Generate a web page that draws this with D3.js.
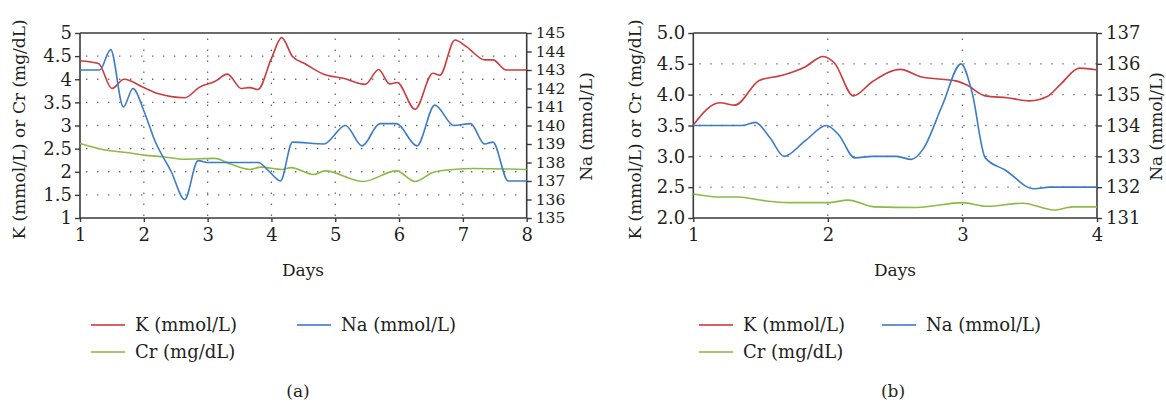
<!DOCTYPE html>
<html>
<head>
<meta charset="utf-8">
<script src="https://cdn.jsdelivr.net/npm/d3@7"></script>
<style>
  html, body { margin: 0; padding: 0; background: #fff; }
  svg { display: block; }
  text { font-family: "DejaVu Serif", "Liberation Serif", serif; fill: #231f20; }
</style>
</head>
<body>
<svg id="chart" width="1166" height="404"></svg>
<script>
// ---------- Panel (a) data ----------
const kDaysA  = [1, 1.29, 1.5, 1.69, 2, 2.22, 2.64, 2.875, 3.11, 3.31, 3.53, 3.66, 3.79, 4, 4.16, 4.33, 4.52, 4.82, 5.13, 5.47, 5.68, 5.85, 5.97, 6.25, 6.53, 6.64, 6.875, 7.06, 7.34, 7.47, 7.68, 8];
const kValsA  = [4.40, 4.34, 3.80, 4.00, 3.82, 3.69, 3.60, 3.83, 3.95, 4.11, 3.80, 3.82, 3.78, 4.45, 4.90, 4.49, 4.34, 4.11, 4.02, 3.89, 4.21, 3.90, 3.93, 3.35, 4.13, 4.09, 4.85, 4.70, 4.42, 4.42, 4.20, 4.20];
const naDaysA = [1, 1.31, 1.48, 1.68, 1.83, 2, 2.17, 2.43, 2.64, 2.85, 3, 3.79, 3.97, 4.14, 4.33, 4.82, 5.16, 5.42, 5.70, 5.96, 6.28, 6.56, 6.86, 7.12, 7.34, 7.47, 7.71, 8];
const naValsA = [143.0, 143.0, 144.1, 141.0, 142.0, 140.8, 139.2, 137.5, 136.0, 138.1, 138.0, 138.0, 137.5, 137.0, 139.1, 139.0, 140.0, 138.9, 140.1, 140.1, 138.9, 141.1, 140.0, 140.1, 139.0, 139.1, 137.0, 137.0];
const crDaysA = [1, 1.39, 1.70, 2, 2.33, 2.64, 3.11, 3.37, 3.66, 3.84, 4.16, 4.31, 4.66, 4.84, 5.44, 5.96, 6.25, 6.54, 6.85, 7.16, 8];
const crValsA = [2.61, 2.47, 2.42, 2.36, 2.32, 2.27, 2.29, 2.16, 2.05, 2.10, 2.05, 2.09, 1.94, 2.02, 1.79, 2.02, 1.79, 1.99, 2.05, 2.07, 2.05];
const dayTicksA   = [1, 2, 3, 4, 5, 6, 7, 8];
const leftTicksA  = [1, 1.5, 2, 2.5, 3, 3.5, 4, 4.5, 5];
const rightTicksA = [135, 136, 137, 138, 139, 140, 141, 142, 143, 144, 145];

// ---------- Panel (b) data ----------
const kDaysB  = [1, 1.196, 1.31, 1.49, 1.655, 1.83, 1.965, 2.05, 2.19, 2.33, 2.54, 2.69, 2.96, 3.03, 3.17, 3.33, 3.5, 3.63, 3.73, 3.87, 4];
const kValsB  = [3.51, 3.87, 3.83, 4.23, 4.31, 4.45, 4.62, 4.51, 3.98, 4.21, 4.41, 4.29, 4.22, 4.16, 3.98, 3.95, 3.90, 3.97, 4.17, 4.43, 4.40];
const naDaysB = [1, 1.36, 1.46, 1.57, 1.675, 1.83, 1.99, 2.08, 2.20, 2.33, 2.51, 2.62, 2.71, 2.85, 2.99, 3.07, 3.17, 3.32, 3.53, 3.65, 4];
const naValsB = [134.0, 134.0, 134.1, 133.6, 133.0, 133.5, 134.0, 133.7, 132.95, 133.0, 133.0, 132.9, 133.25, 134.65, 136.0, 135.1, 132.95, 132.55, 131.95, 132.0, 132.0];
const crDaysB = [1, 1.2, 1.33, 1.53, 1.70, 2, 2.15, 2.35, 2.66, 3, 3.18, 3.45, 3.68, 3.82, 4];
const crValsB = [2.39, 2.34, 2.34, 2.28, 2.25, 2.25, 2.29, 2.18, 2.17, 2.25, 2.19, 2.24, 2.13, 2.18, 2.18];
const dayTicksB   = [1, 2, 3, 4];
const leftTicksB  = [2.0, 2.5, 3.0, 3.5, 4.0, 4.5, 5.0];
const rightTicksB = [131, 132, 133, 134, 135, 136, 137];

// ---------- labels ----------
const seriesNames = ["K (mmol/L)", "Na (mmol/L)", "Cr (mg/dL)"];
const seriesColors = ["#cc3b3d", "#3b7cc8", "#8dba45"];
const leftTitle = "K (mmol/L) or Cr (mg/dL)";
const rightTitle = "Na (mmol/L)";
const xTitle = "Days";
const panelLabels = ["(a)", "(b)"];

const svg = d3.select("#chart");
const axisColor = "#3a3a3a";

function drawPanel(p) {
  const g = svg.append("g");
  const x = d3.scaleLinear().domain(p.xDomain).range([p.x0, p.x1]);
  const yL = d3.scaleLinear().domain(p.yLDomain).range([p.y1, p.y0]);
  const yR = d3.scaleLinear().domain(p.yRDomain).range([p.y1, p.y0]);

  // grid
  const grid = g.append("g").attr("stroke", "#6b6b6b").attr("stroke-width", 1.3)
    .attr("stroke-dasharray", "1.4,9.6");
  grid.selectAll("line.h").data(p.leftTicks.slice(1, -1)).join("line")
    .attr("x1", p.x0 + 6).attr("x2", p.x1)
    .attr("y1", d => yL(d)).attr("y2", d => yL(d));
  grid.selectAll("line.v").data(p.dayTicks.slice(1, -1)).join("line")
    .attr("x1", d => x(d)).attr("x2", d => x(d))
    .attr("y1", p.y1 - 2).attr("y2", p.y0);

  // frame top
  g.append("line").attr("x1", p.x0).attr("x2", p.x1).attr("y1", p.y0).attr("y2", p.y0)
    .attr("stroke", axisColor).attr("stroke-width", 1.5);

  // axes
  const axL = g.append("g").attr("transform", `translate(${p.x0},0)`)
    .call(d3.axisLeft(yL).tickValues(p.leftTicks).tickFormat(p.fmtL).tickSize(5).tickPadding(3));
  const axR = g.append("g").attr("transform", `translate(${p.x1},0)`)
    .call(d3.axisRight(yR).tickValues(p.rightTicks).tickFormat(d3.format("d")).tickSize(5).tickPadding(4));
  const axB = g.append("g").attr("transform", `translate(0,${p.y1})`)
    .call(d3.axisBottom(x).tickValues(p.dayTicks).tickFormat(d3.format("d")).tickSize(4).tickPadding(6));
  [axL, axR, axB].forEach(a => {
    a.select(".domain").attr("stroke", axisColor).attr("stroke-width", 1.6);
    a.selectAll(".tick line").attr("stroke", axisColor).attr("stroke-width", 1.4);
    a.selectAll(".tick text").attr("font-size", 18).attr("font-family", "DejaVu Serif").attr("fill", "#231f20");
  });
  axR.selectAll(".tick text").attr("font-size", p.rightTickSize);
  axL.select(".domain").attr("d", `M0,${p.y1}V${p.y0}`);
  axR.select(".domain").attr("d", `M0,${p.y1}V${p.y0}`);
  axB.select(".domain").attr("d", `M${p.x0},0H${p.x1}`);

  // lines
  const series = [
    {days: p.kDays, vals: p.kVals, y: yL, c: seriesColors[0]},
    {days: p.crDays, vals: p.crVals, y: yL, c: seriesColors[2]},
    {days: p.naDays, vals: p.naVals, y: yR, c: seriesColors[1]}
  ];
  series.forEach(s => {
    const pts = s.days.map((d, i) => [d, s.vals[i]]);
    const line = d3.line().x(d => x(d[0])).y(d => s.y(d[1])).curve(d3.curveMonotoneX);
    g.append("path").attr("d", line(pts)).attr("fill", "none")
      .attr("stroke", s.c).attr("stroke-width", 1.6).attr("stroke-linejoin", "round");
  });

  // titles
  g.append("text").attr("transform", `translate(${p.lTitleX},${(p.y0 + p.y1) / 2 + 4}) rotate(-90)`)
    .attr("text-anchor", "middle").attr("dominant-baseline", "middle").attr("font-size", 17).text(leftTitle);
  g.append("text").attr("transform", `translate(${p.rTitleX},${(p.y0 + p.y1) / 2 + 1}) rotate(-90)`)
    .attr("text-anchor", "middle").attr("dominant-baseline", "middle").attr("font-size", 17).text(rightTitle);
  g.append("text").attr("x", p.daysX).attr("y", 276).attr("text-anchor", "middle")
    .attr("font-size", 17).text(xTitle);

  // legend
  const leg = [
    {name: seriesNames[0], c: seriesColors[0], lx: p.legX0, ly: 325},
    {name: seriesNames[1], c: seriesColors[1], lx: p.legX1, ly: 325},
    {name: seriesNames[2], c: seriesColors[2], lx: p.legX0, ly: 352}
  ];
  leg.forEach(l => {
    g.append("line").attr("x1", l.lx).attr("x2", l.lx + 34).attr("y1", l.ly).attr("y2", l.ly)
      .attr("stroke", l.c).attr("stroke-width", 1.8).attr("stroke-opacity", 0.8);
    g.append("text").attr("x", l.lx + 44).attr("y", l.ly + 6).attr("font-size", 18).text(l.name);
  });
  g.append("text").attr("x", p.labelX).attr("y", 397).attr("text-anchor", "middle")
    .attr("font-size", 17).text(p.label);
}

drawPanel({
  x0: 80, x1: 526.7, y0: 33, y1: 218,
  xDomain: [1, 8], yLDomain: [1, 5], yRDomain: [135, 145],
  dayTicks: dayTicksA, leftTicks: leftTicksA, rightTicks: rightTicksA,
  fmtL: d3.format("~g"), rightTickSize: 15.5,
  kDays: kDaysA, kVals: kValsA, naDays: naDaysA, naVals: naValsA, crDays: crDaysA, crVals: crValsA,
  lTitleX: 20, rTitleX: 587, daysX: 303,
  legX0: 91, legX1: 297, labelX: 298, label: panelLabels[0]
});
drawPanel({
  x0: 693.3, x1: 1097, y0: 33, y1: 218,
  xDomain: [1, 4], yLDomain: [2, 5], yRDomain: [131, 137],
  dayTicks: dayTicksB, leftTicks: leftTicksB, rightTicks: rightTicksB,
  fmtL: d3.format(".1f"), rightTickSize: 18,
  kDays: kDaysB, kVals: kValsB, naDays: naDaysB, naVals: naValsB, crDays: crDaysB, crVals: crValsB,
  lTitleX: 636, rTitleX: 1157, daysX: 895,
  legX0: 699, legX1: 882, labelX: 893, label: panelLabels[1]
});
</script>
</body>
</html>
